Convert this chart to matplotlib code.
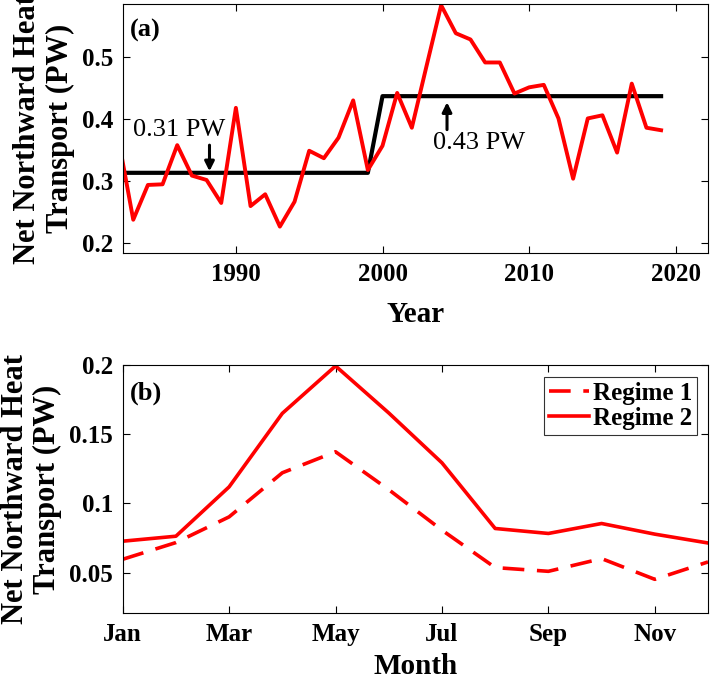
#!/usr/bin/env python3
import matplotlib
matplotlib.use("Agg")
import matplotlib.pyplot as plt

# (a) annual net northward heat transport (PW)
years = list(range(1982, 2020))
transport = [0.367, 0.238, 0.294, 0.295, 0.358, 0.309, 0.302, 0.265, 0.418, 0.260,
             0.279, 0.227, 0.267, 0.349, 0.337, 0.370, 0.430, 0.318, 0.357, 0.442,
             0.386, 0.485, 0.583, 0.538, 0.528, 0.491, 0.491, 0.441, 0.451, 0.455,
             0.401, 0.304, 0.401, 0.406, 0.346, 0.457, 0.386, 0.382]

# regime means (step)
step_years = [1982, 1999, 2000, 2019]
step_vals = [0.3135, 0.3135, 0.4368, 0.4368]

# (b) monthly climatology per regime
months = list(range(1, 13))
month_ticks = [1, 3, 5, 7, 9, 11]
month_labels = ["Jan", "Mar", "May", "Jul", "Sep", "Nov"]
regime1 = [0.0596, 0.0717, 0.0903, 0.1222, 0.1374, 0.110,
           0.0807, 0.0536, 0.0509, 0.0601, 0.0451, 0.0577]
regime2 = [0.0727, 0.0763, 0.112, 0.1652, 0.1995, 0.1655,
           0.1294, 0.0819, 0.0783, 0.0855, 0.0778, 0.0714]

plt.rcParams["font.family"] = ["Liberation Serif", "DejaVu Serif"]
plt.rcParams["font.weight"] = "bold"
plt.rcParams["axes.linewidth"] = 0.8

TICK_FS = 18
LABEL_FS = 21
YLABEL_FS = 22


def style_axes(ax):
    ax.tick_params(direction="in", top=True, right=True, length=5, width=0.8,
                   labelsize=TICK_FS, pad=7)
    for lab in ax.get_xticklabels() + ax.get_yticklabels():
        lab.set_fontweight("bold")


fig = plt.figure(figsize=(7.1, 6.83), dpi=100)

# ---- panel (a)
ax1 = fig.add_axes([0.1728, 0.6291, 0.8244, 0.3650])
ax1.plot(step_years, step_vals, color="black", lw=3)
ax1.plot(years, transport, color="#ff0000", lw=2.8)
ax1.set_xlim(1982.28, 2022.2)
ax1.set_ylim(0.184, 0.585)
ax1.set_xticks([1990, 2000, 2010, 2020])
ax1.set_yticks([0.2, 0.3, 0.4, 0.5])
ax1.set_yticklabels(["0.2", "0.3", "0.4", "0.5"])
style_axes(ax1)
ax1.set_xlabel("Year", fontsize=LABEL_FS, fontweight="bold", labelpad=11)
ax1.set_ylabel("Net Northward Heat\nTransport (PW)", fontsize=YLABEL_FS,
               fontweight="bold", labelpad=5, linespacing=1.15)
ax1.text(0.0125, 0.895, "(a)", transform=ax1.transAxes, fontsize=19,
         fontweight="bold", va="center", ha="left")

arrow = dict(arrowstyle="-|>", color="black", lw=2.2, mutation_scale=14,
             shrinkA=0, shrinkB=0)
ax1.annotate("", xy=(1988.2, 0.316), xytext=(1988.2, 0.358), arrowprops=arrow)
ax1.text(1982.95, 0.383, "0.31 PW", fontsize=19, fontweight="normal",
         va="center", ha="left")
ax1.annotate("", xy=(2004.4, 0.427), xytext=(2004.4, 0.383), arrowprops=arrow)
ax1.text(2003.45, 0.361, "0.43 PW", fontsize=19, fontweight="normal",
         va="center", ha="left")

# ---- panel (b)
ax2 = fig.add_axes([0.1728, 0.1020, 0.8244, 0.3632])
ax2.plot(months, regime1, color="#ff0000", lw=2.6, linestyle=(0, (6, 3.5)),
         label="Regime 1")
ax2.plot(months, regime2, color="#ff0000", lw=2.6, label="Regime 2")
ax2.set_xlim(1, 12)
ax2.set_ylim(0.0205, 0.2)
ax2.set_xticks(month_ticks)
ax2.set_xticklabels(month_labels)
ax2.set_yticks([0.05, 0.1, 0.15, 0.2])
ax2.set_yticklabels(["0.05", "0.1", "0.15", "0.2"])
style_axes(ax2)
ax2.set_xlabel("Month", fontsize=LABEL_FS, fontweight="bold", labelpad=5)
ax2.set_ylabel("Net Northward Heat\nTransport (PW)", fontsize=YLABEL_FS,
               fontweight="bold", labelpad=5, linespacing=1.15)
ax2.text(0.0125, 0.888, "(b)", transform=ax2.transAxes, fontsize=19,
         fontweight="bold", va="center", ha="left")
leg = ax2.legend(loc="upper right", frameon=True, fancybox=False,
                 handlelength=1.6, handletextpad=0.15, borderpad=0.2,
                 labelspacing=0.1, borderaxespad=0.45,
                 prop={"weight": "bold", "size": 18})
leg.get_frame().set_edgecolor("black")
leg.get_frame().set_linewidth(0.8)

fig.savefig("out.png", dpi=100)
plt.close(fig)
